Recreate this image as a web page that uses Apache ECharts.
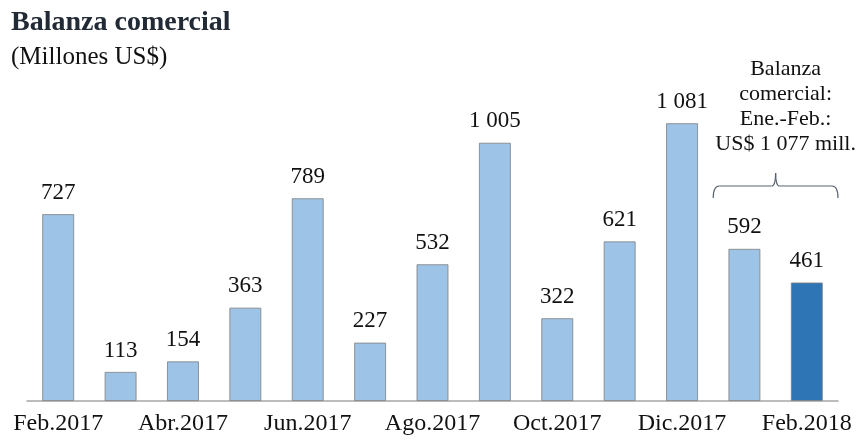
<!DOCTYPE html>
<html><head><meta charset="utf-8">
<script src="https://cdn.jsdelivr.net/npm/echarts@6/dist/echarts.min.js"></script>
<style>html,body{margin:0;padding:0;background:#fff}#c{width:857px;height:443px}</style>
</head><body><div id="c"></div>
<script>
const categories = ['Feb.2017','Mar.2017','Abr.2017','May.2017','Jun.2017','Jul.2017','Ago.2017','Set.2017','Oct.2017','Nov.2017','Dic.2017','Ene.2018','Feb.2018'];
const values = [727, 113, 154, 363, 789, 227, 532, 1005, 322, 621, 1081, 592, 461];
const highlightIndex = 12;
const titleText = 'Balanza comercial';
const subtitleText = '(Millones US$)';
const noteLines = ['Balanza', 'comercial:', 'Ene.-Feb.:', 'US$ 1 077 mill.'];

const FONT = 'Liberation Serif';
const fmt = v => String(v).replace(/\B(?=(\d{3})+(?!\d))/g, ' ');

const chart = echarts.init(document.getElementById('c'), null, {renderer: 'canvas'});
chart.setOption({
  animation: false,
  backgroundColor: '#ffffff',
  grid: {left: 27, right: 19, top: 67, bottom: 42},
  xAxis: {
    type: 'category', data: categories,
    axisLine: {lineStyle: {color: '#a6a6a6', width: 1.5}},
    axisTick: {show: false},
    axisLabel: {interval: 1, margin: 11, fontFamily: FONT, fontSize: 24, color: '#111111'}
  },
  yAxis: {type: 'value', min: 0, max: 1300, show: false, splitLine: {show: false}},
  series: [{
    type: 'bar',
    barWidth: '51%',
    data: values.map((v, i) => ({
      value: v,
      itemStyle: {color: i === highlightIndex ? '#2e75b6' : '#9dc3e6', borderColor: '#7f7f7f', borderWidth: 0.8}
    })),
    label: {
      show: true, position: 'top', distance: 10,
      fontFamily: FONT, fontSize: 23, color: '#111111',
      formatter: p => fmt(p.value)
    }
  }]
});

// Brace + note over the last two categories
const c0 = chart.convertToPixel({xAxisIndex: 0}, categories[11]);
const c1 = chart.convertToPixel({xAxisIndex: 0}, categories[12]);
const band = c1 - c0;
const x0 = c0 - band / 2, x1 = c1 + band / 2, xm = (x0 + x1) / 2;
const yb = 186, yTop = 173, yEnd = 198;
const braceStyle = {fill: null, stroke: '#5a6270', lineWidth: 1.2};
chart.setOption({
  graphic: [
    {type: 'text', left: 11, top: 9, style: {text: titleText, fontFamily: FONT, fontWeight: 'bold', fontSize: 28, fill: '#222a35'}},
    {type: 'text', left: 11, top: 45, style: {text: subtitleText, fontFamily: FONT, fontSize: 25, fill: '#111111'}},
    {type: 'bezierCurve', shape: {x1: x0, y1: yEnd, x2: x0 + 6, y2: yb, cpx1: x0, cpy1: yb}, style: braceStyle},
    {type: 'line', shape: {x1: x0 + 6, y1: yb, x2: xm - 4, y2: yb}, style: braceStyle},
    {type: 'bezierCurve', shape: {x1: xm - 4, y1: yb, x2: xm, y2: yTop, cpx1: xm, cpy1: yb}, style: braceStyle},
    {type: 'bezierCurve', shape: {x1: xm, y1: yTop, x2: xm + 4, y2: yb, cpx1: xm, cpy1: yb}, style: braceStyle},
    {type: 'line', shape: {x1: xm + 4, y1: yb, x2: x1 - 6, y2: yb}, style: braceStyle},
    {type: 'bezierCurve', shape: {x1: x1 - 6, y1: yb, x2: x1, y2: yEnd, cpx1: x1, cpy1: yb}, style: braceStyle},
    {type: 'text', x: xm + 10, y: 57, style: {
      text: noteLines.join('\n'), align: 'center', verticalAlign: 'top',
      fontFamily: FONT, fontSize: 22, lineHeight: 25, fill: '#111111'
    }}
  ]
});
</script></body></html>
